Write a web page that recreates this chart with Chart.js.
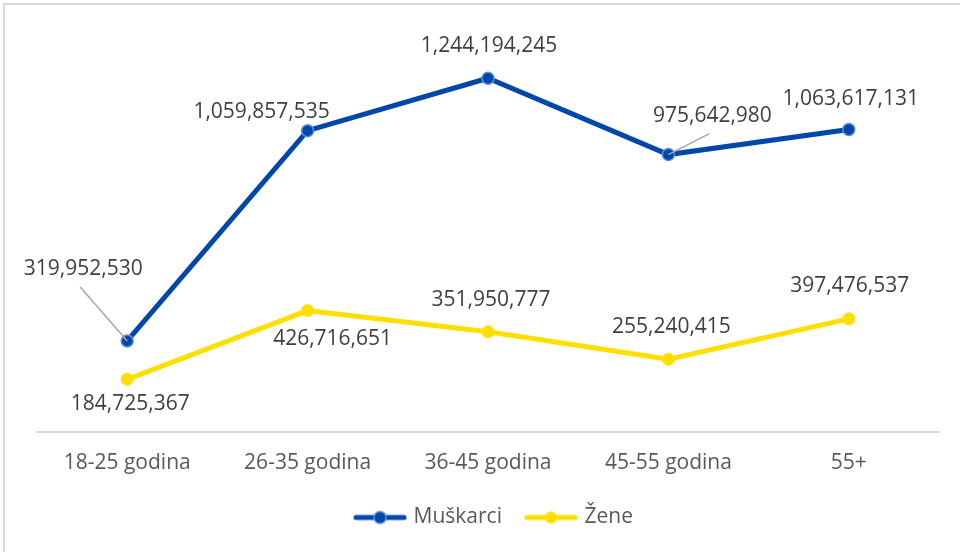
<!DOCTYPE html>
<html>
<head>
<meta charset="utf-8">
<script src="https://cdn.jsdelivr.net/npm/chart.js@4/dist/chart.umd.min.js"></script>
<style>
  html, body { margin: 0; padding: 0; background: #fff; }
  .wrap { position: relative; width: 960px; height: 552px; overflow: hidden; }
  .frame {
    position: absolute; left: 3px; top: 3px; width: 1000px; height: 600px;
    border-top: 2px solid #d9d9d9; border-left: 2px solid #d9d9d9;
  }
  canvas { position: absolute; left: 0; top: 0; }
</style>
</head>
<body>
<div class="wrap">
  <div class="frame"></div>
  <canvas id="lineChart" width="960" height="552"></canvas>
</div>
<script>
// data
const categories = ['18-25 godina', '26-35 godina', '36-45 godina', '45-55 godina', '55+']
const muskarci = [319952530, 1059857535, 1244194245, 975642980, 1063617131]
const zene = [184725367, 426716651, 351950777, 255240415, 397476537]
const seriesNames = ['Muškarci', 'Žene']

// where each value label sits relative to its point (dx, dy) and whether it gets a leader line
const labelOffsets = [
  [[-44, -72, true], [-46, -19], [1, -32], [44, -39, true], [2, -31]],
  [[3, 25], [25, 28], [3, -32], [3, -32], [1, -33]]
]

const blue = '#0047ab'
const blueRing = '#5b8fd6'
const yellow = '#ffdf00'
const textColor = '#595959'
const fontFamily = "'Open Sans', 'Noto Sans', sans-serif"

// legend marker: short thick line with a dot in the middle
function legendMarker(color, ring) {
  const c = document.createElement('canvas')
  c.width = 54
  c.height = 16
  const g = c.getContext('2d')
  g.strokeStyle = color
  g.lineWidth = 5
  g.lineCap = 'round'
  g.beginPath()
  g.moveTo(3, 8)
  g.lineTo(51, 8)
  g.stroke()
  g.beginPath()
  g.arc(27, 8, 6, 0, Math.PI * 2)
  g.fillStyle = color
  g.fill()
  if (ring) {
    g.lineWidth = 1.5
    g.strokeStyle = ring
    g.stroke()
  }
  return c
}

const valueLabels = {
  id: 'valueLabels',
  afterLayout(chart) {
    // nudge the legend to where excel put it
    const lg = chart.legend
    lg.left += 7
    lg.right += 7
    lg.top -= 14
    lg.bottom -= 14
  },
  afterDatasetsDraw(chart) {
    const ctx = chart.ctx
    ctx.save()
    ctx.font = '21px ' + fontFamily
    ctx.textAlign = 'center'
    ctx.textBaseline = 'middle'
    chart.data.datasets.forEach((ds, di) => {
      const meta = chart.getDatasetMeta(di)
      meta.data.forEach((pt, i) => {
        const off = labelOffsets[di][i]
        const lx = pt.x + off[0]
        const ly = pt.y + off[1]
        if (off[2]) {
          ctx.strokeStyle = '#a6a6a6'
          ctx.lineWidth = 1.5
          ctx.beginPath()
          ctx.moveTo(lx - 3, ly + 18)
          ctx.lineTo(pt.x, pt.y)
          ctx.stroke()
        }
        ctx.fillStyle = '#404040'
        ctx.fillText(ds.data[i].toLocaleString('en-US'), lx, ly)
      })
    })
    ctx.restore()
  }
}

const chart = new Chart(document.getElementById('lineChart'), {
  type: 'line',
  data: {
    labels: categories,
    datasets: [
      {
        label: seriesNames[0],
        data: muskarci,
        borderColor: blue,
        backgroundColor: blue,
        borderWidth: 5,
        pointRadius: 6,
        pointBackgroundColor: blue,
        pointBorderColor: blueRing,
        pointBorderWidth: 1.5,
        pointStyle: 'circle',
        tension: 0
      },
      {
        label: seriesNames[1],
        data: zene,
        borderColor: yellow,
        backgroundColor: yellow,
        borderWidth: 5,
        pointRadius: 6,
        pointBackgroundColor: yellow,
        pointBorderColor: yellow,
        pointBorderWidth: 1,
        tension: 0
      }
    ]
  },
  options: {
    responsive: false,
    animation: false,
    devicePixelRatio: 1,
    layout: { padding: { left: 37, right: 21, top: 34, bottom: 0 } },
    plugins: {
      tooltip: { enabled: false },
      legend: {
        position: 'bottom',
        labels: {
          usePointStyle: true,
          pointStyleWidth: 46,
          padding: 26,
          color: textColor,
          font: { family: fontFamily, size: 21 },
          generateLabels(chart) {
            return chart.data.datasets.map((ds, i) => ({
              text: ds.label,
              fontColor: textColor,
              pointStyle: i === 0 ? legendMarker(blue, blueRing) : legendMarker(yellow),
              strokeStyle: 'transparent',
              fillStyle: 'transparent',
              lineWidth: 0,
              datasetIndex: i
            }))
          }
        }
      }
    },
    scales: {
      x: {
        offset: true,
        grid: { display: false, drawTicks: false },
        border: { display: true, color: '#d9d9d9', width: 2 },
        ticks: { color: textColor, padding: 19, font: { family: fontFamily, size: 21 } }
      },
      y: {
        display: false,
        min: 0,
        max: 1400000000
      }
    }
  },
  plugins: [valueLabels]
})
</script>
</body>
</html>
